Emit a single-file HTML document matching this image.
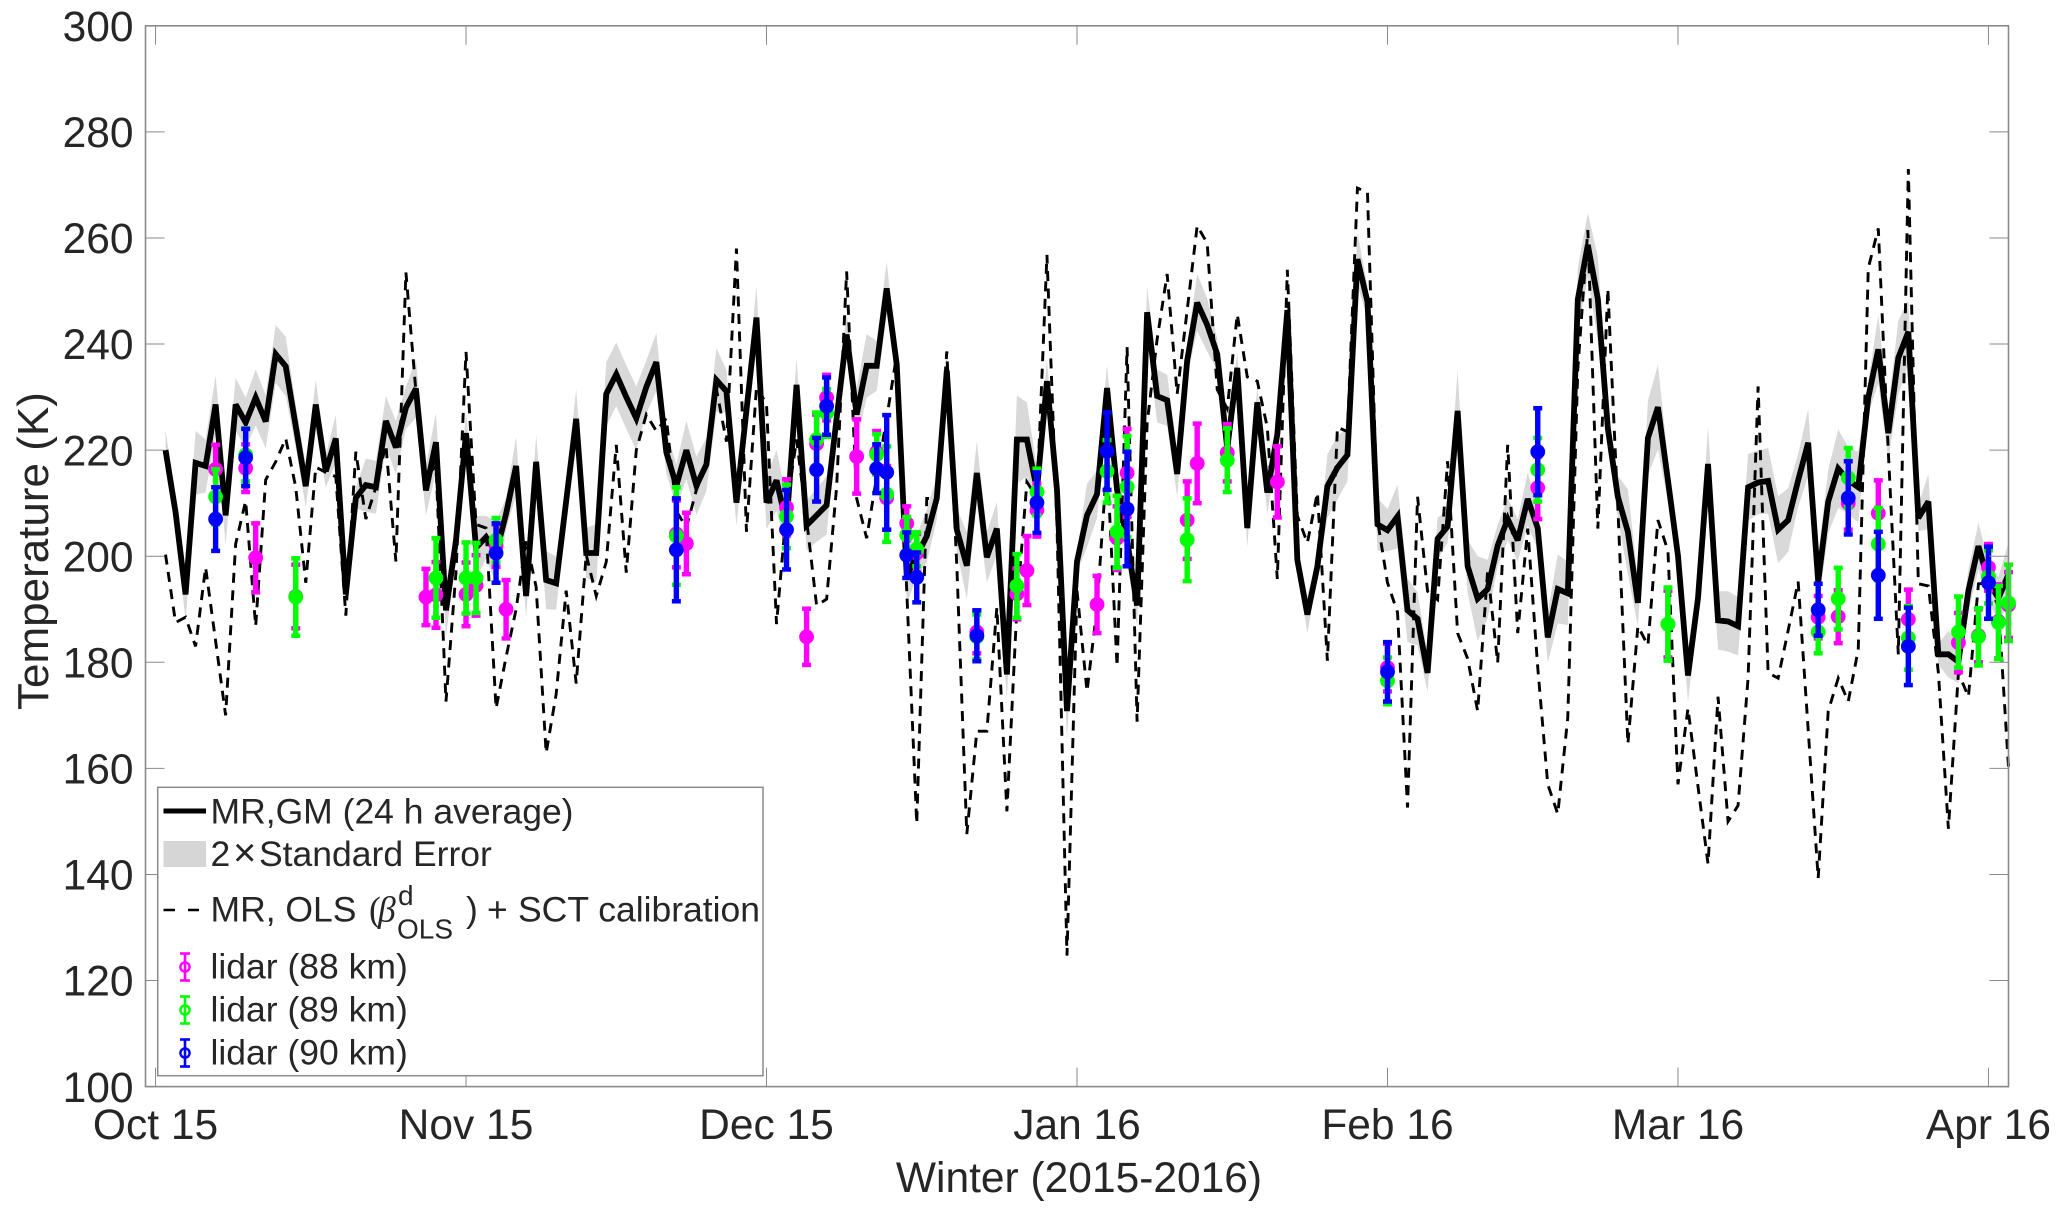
<!DOCTYPE html>
<html lang="en">
<head>
<meta charset="utf-8">
<title>Temperature, Winter 2015-2016</title>
<style>
html,body{margin:0;padding:0;background:#fff;}
svg{display:block;font-family:"Liberation Sans",Arial,sans-serif;}
text{fill:#262626;}
</style>
</head>
<body>
<svg id="chart" width="2067" height="1212" viewBox="0 0 2067 1212" xmlns="http://www.w3.org/2000/svg">
  <rect x="0" y="0" width="2067" height="1212" fill="#fff"/>
  <g id="plot"></g>
  <g id="axes"></g>
  <text transform="translate(48,710) rotate(-90)" font-size="44">Temperature (K)</text>
  <text x="1079" y="1192" font-size="42.5" text-anchor="middle">Winter (2015-2016)</text>
  <g>
    <rect x="157.7" y="787.3" width="605.3" height="288.4" fill="#fff" stroke="#8a8a8a" stroke-width="1.5"/>
    <line x1="163.5" y1="811" x2="206" y2="811" stroke="#000" stroke-width="5"/>
    <text x="210.5" y="823.7" font-size="35.5" fill="#000">MR,GM (24 h average)</text>
    <rect x="163.5" y="841" width="42.5" height="26" fill="#d6d6d6"/>
    <text font-size="35.5" y="866"><tspan x="210.5">2</tspan><tspan x="233" font-size="40">×</tspan><tspan x="259">Standard Error</tspan></text>
    <line x1="163.5" y1="910" x2="199" y2="910" stroke="#000" stroke-width="2.6" stroke-dasharray="11.5,13"/>
    <text font-size="35.5" y="921.7"><tspan x="210.5">MR, OLS</tspan><tspan x="369" font-family="'Liberation Serif',serif">(</tspan><tspan x="378" font-family="'Liberation Serif',serif" font-style="italic">β</tspan><tspan x="466">)</tspan><tspan x="487">+</tspan><tspan x="518">SCT calibration</tspan></text>
    <text x="398" y="905" font-size="28">d</text>
    <text x="397" y="938.3" font-size="28">OLS</text>
    <g id="legendLidar"></g>
  </g>
</svg>
<script>
// Day number since 1 Oct 2015 for the first value in each daily series
const firstDay = 1;

// MR,GM 24 h average (K), one value per day
const gmTemp = [220,208.3,192.8,217.6,217,228.6,207.7,228.6,225.2,229.9,225.4,238.1,235.8,224.5,213.2,228.6,216,222.2,192.8,211,213.4,213,225.5,220.5,228,231.6,212.4,221.5,189.8,203,223.2,201.6,203.6,200.6,208,217,192.5,217.8,195.5,194.9,210.4,225.9,200.6,200.6,230.6,234.3,230,226,231.9,236.6,219.6,213.3,220,213.3,217.3,233.2,231.1,210.1,227.5,245,210.1,214.3,206,232.3,205.8,207.7,209.6,226,241.8,226.7,235.9,235.9,250.5,236.2,196.3,200,203.8,210.9,235,205,198.2,215.7,199.8,205.2,177.7,222,222,212.5,233,212.5,170.8,199,207.7,211.7,231.7,212.5,203,190.7,246,230.2,229.4,215.5,236.9,247.8,243.6,238.1,220.3,235.5,205.3,229,212,223,246.4,199.3,189,198.1,213.2,216.7,219.1,256,248,206,204.9,207.5,189.8,188.2,178,203.3,205.6,227.4,198.1,192,193.8,202,207,203,210.8,205.3,184.7,193.8,193,248.4,258.7,248.5,224.1,211.2,204.6,191.2,222.3,228.1,214.3,200.1,177.5,192.1,217.4,187.9,187.7,186.8,213,213.9,214.2,205,206.8,214.3,221.4,195.2,210.3,216.5,214.3,213,229.9,239,223.2,237.4,242.3,207.2,210.3,181.5,181.5,180.1,193.5,201.9,195.2,192.1,196.6];

// Half-width of the 2 x standard error band (K), one value per day
const gmError = [3.8,3,5,6,5,5.5,5.5,5,4.7,5.3,5,5.5,5.6,4,4,4.7,3,4.5,3,2,5,5,4.7,5,4,5.5,4.7,5.5,5,3,4,6,4,6,3,5.5,4,5,5.5,5,3,5.7,4.7,5.5,6,6,6,6,5,5.5,4,4,5.5,5.5,5,6,4,4.3,3,6,5,5.7,5,5,4.7,5,5.5,3,4,5,6,4.7,5,2,5.2,4,5,4,4.4,4,6.3,5.9,4.7,5,4.7,8.3,7,4,4,3,5.4,2,6,4.5,4.3,4,4,4,4.8,5,4.8,4.3,3,5.4,5,3,3,3,3.6,3,4,3,3,2,3.5,2,6,6,5,5,3,5,4,6,6,5,3.6,4,3,7.6,5,8,5.5,4,4,4,5,4,4.8,6.5,6,6,6,8,4,4,8,4.4,7,8,4,3,5,3,7,5.5,5.7,5.5,6.3,6,6.2,6.3,6,5,6.3,5,6,7.4,6.3,6.7,3,6.4,5,7,6,2.5,5.2,2,4.4,4,4,4.4,4,4,6];

// MR, OLS + SCT calibration (K), one value per day
const olsTemp = [200.3,187.5,188.5,183,197.9,184,170,202.3,210.4,186.8,214.4,217.8,222.2,213,195,216.8,215.8,215,188.8,219.7,207,213,221,199,253.5,231,215,217,172.6,197,238.5,206,205.3,171.3,181,190,203,194.2,162.9,174,193.5,176,200.3,192.5,198.9,221,196.9,220,226.7,223.6,226,208.5,205.4,212.5,217,231.5,221.6,258,204.6,231.9,228.7,187.2,209,222,207,190.7,191.9,213,253.7,210.9,203.4,215,226,238,193.5,149.6,210.9,210.9,238.6,198.2,147.6,167,167,190.3,151.9,190.3,214,211,256.8,206,124.7,193.5,174.5,190.3,218,179.2,239.4,168.8,225,240.9,253.2,230.6,246.4,262.3,259,231.4,227.8,245.6,233.8,233,224.3,195.7,254,207.6,202.5,212,180.3,224.3,223.5,269.4,268.6,206.8,195,189.4,152.6,211.2,193.4,191.8,217.9,185.5,180.7,170.8,197.3,179.9,221,185.5,205.2,179,157,151.4,169.6,235.3,261.5,205.2,250.4,209,164.6,186.8,183.2,206.8,201,157,171.3,156.6,142,173.5,150,153,177,232,178,177,186,195.2,167.3,139.3,170.8,177,172.6,182.4,254.3,261.8,219.7,181.5,273,194.8,194.4,178,148.6,178,173.5,194.8,195,190.4,160.2];

// Lidar 88 km
const lidar88Days = [6,9,10,14,27,28,31,32,34,35,52,53,63,65,66,67,70,72,73,75,76,82,86,87,88,94,96,97,103,104,107,112,123,138,151,166,168,169,172,175,180,182,183,184,185];
const lidar88Temp = [216.4,216.6,199.7,192.4,192.3,192.7,192.8,194.5,202,190,204.2,202.4,209.2,184.8,221.2,229.9,218.8,219.6,211,206.2,200.6,185.7,192.9,197.3,208.7,190.9,203.4,215.7,206.8,217.5,219.5,214,179,212.9,187.2,188.5,188.6,210,208.1,188.1,183.7,185,197.9,187.7,190.8];
const lidar88Err = [4.6,4.5,6.5,6,5.3,6.2,6,5.7,4,5.5,6.3,5.8,5.3,5.3,5.5,4.3,7,4,6,3.2,3.6,4,4.8,6.5,5,5.4,6,8.3,7.3,7.5,5.4,6.7,4.5,5.9,6.3,4,5,5,6.2,5.6,5.6,5,4.4,7,6.2];

// Lidar 89 km
const lidar89Days = [6,9,14,28,31,32,34,52,63,66,67,72,73,75,76,82,86,88,95,96,97,103,107,123,138,151,166,168,169,172,175,180,182,183,184,185];
const lidar89Temp = [211.2,219.1,192.3,195.9,195.9,195.9,203,203.8,207.5,222,227,219.2,211.7,204,201.3,184.8,194.4,212.1,216,204.6,213.1,203.1,218.1,176.5,216.3,187.2,185.7,192,214.8,202.3,184.6,185.7,184.8,196.1,187.5,191.2];
const lidar89Err = [5.2,5,7.3,7.5,6.7,6.6,4.2,9.2,6,5.1,4.5,3.8,9,3.4,3.2,4.2,6,4.4,5.9,6.8,9.5,7.8,6,4.4,6,6.9,4,5.8,5.6,6.8,6,6.7,5.4,5,6.9,7.2];

// Lidar 90 km
const lidar90Days = [6,9,34,52,63,66,67,72,73,75,76,82,88,95,97,123,138,166,169,172,175,183];
const lidar90Temp = [207,218.6,200.6,201.2,205,216.3,228.3,216.5,215.8,200.2,196,185,210.1,219.8,208.9,178.2,219.7,189.9,211,196.4,183,195];
const lidar90Err = [6,5.4,5.6,9.7,7.5,6,5.4,4.6,10.8,4.3,4.7,4.8,5.7,7.3,10.8,5.6,8.2,4.9,6.9,8.2,7.3,6.8];

// Axis ticks
const yTicks = [100,120,140,160,180,200,220,240,260,280,300];
const xTickDays = [0,31,61,92,123,152,183];
const xTickLabels = ["Oct 15","Nov 15","Dec 15","Jan 16","Feb 16","Mar 16","Apr 16"];
const legendLabels = ["lidar (88 km)","lidar (89 km)","lidar (90 km)"];

const NS = "http://www.w3.org/2000/svg";
const plotLeft = 145.5, plotRight = 2008.5, plotTop = 25.8, plotBottom = 1086.6;
const dayMin = -1, dayMax = 185, tempMin = 100, tempMax = 300;

function xScale(day){ return plotLeft + (day - dayMin) * (plotRight - plotLeft) / (dayMax - dayMin); }
function yScale(temp){ return plotBottom - (temp - tempMin) * (plotBottom - plotTop) / (tempMax - tempMin); }
function make(tag, attrs, parent){
  const el = document.createElementNS(NS, tag);
  for (const k in attrs) el.setAttribute(k, attrs[k]);
  parent.appendChild(el);
  return el;
}
function seriesPath(values){
  return values.map((v,i) => (i ? "L" : "M") + xScale(firstDay + i).toFixed(2) + " " + yScale(v).toFixed(2)).join(" ");
}

const plot = document.getElementById("plot");
const axes = document.getElementById("axes");
const legendLidar = document.getElementById("legendLidar");

// Standard error band
const upper = gmTemp.map((v,i) => xScale(firstDay + i).toFixed(2) + "," + yScale(v + gmError[i]).toFixed(2));
const lower = gmTemp.map((v,i) => xScale(firstDay + i).toFixed(2) + "," + yScale(v - gmError[i]).toFixed(2)).reverse();
const band = make("polygon", {points: upper.concat(lower).join(" "), fill: "#d9d9d9", stroke: "none"}, plot);



// Dashed OLS line
const olsLine = make("path", {d: seriesPath(olsTemp), fill: "none", stroke: "#000", "stroke-width": 2.9, "stroke-dasharray": "10,7.5", "stroke-linejoin": "miter"}, plot);



// Solid GM line
const gmLine = make("path", {d: seriesPath(gmTemp), fill: "none", stroke: "#000", "stroke-width": 5.8, "stroke-linejoin": "miter", "stroke-miterlimit": 3}, plot);



// Lidar error bars
function drawLidar(days, temps, errs, color, groupName, pointName){
  const g = make("g", {}, plot);
  
  
  days.forEach((d,i) => {
    const x = xScale(d), y0 = yScale(temps[i] + errs[i]), y1 = yScale(temps[i] - errs[i]), y = yScale(temps[i]);
    const p = make("g", {}, g);
    
    
    make("line", {x1:x, y1:y0, x2:x, y2:y1, stroke:color, "stroke-width":5.4}, p);
    make("line", {x1:x-4.5, y1:y0, x2:x+4.5, y2:y0, stroke:color, "stroke-width":4.5}, p);
    make("line", {x1:x-4.5, y1:y1, x2:x+4.5, y2:y1, stroke:color, "stroke-width":4.5}, p);
    make("circle", {cx:x, cy:y, r:7.4, fill:color}, p);
  });
}
drawLidar(lidar88Days, lidar88Temp, lidar88Err, "#ff00ff", "lidar-88-series", "lidar-88-point");
drawLidar(lidar89Days, lidar89Temp, lidar89Err, "#00ff00", "lidar-89-series", "lidar-89-point");
drawLidar(lidar90Days, lidar90Temp, lidar90Err, "#0000ff", "lidar-90-series", "lidar-90-point");

// Axis box
const frame = make("rect", {x:plotLeft, y:plotTop, width:plotRight-plotLeft, height:plotBottom-plotTop, fill:"none", stroke:"#8a8a8a", "stroke-width":1.6}, axes);



// Y ticks and labels
yTicks.forEach(t => {
  const y = yScale(t);
  const tl = make("line", {x1:plotLeft, y1:y, x2:plotLeft+19, y2:y, stroke:"#8a8a8a", "stroke-width":1}, axes);
  
  
  const tr = make("line", {x1:plotRight-19, y1:y, x2:plotRight, y2:y, stroke:"#8a8a8a", "stroke-width":1}, axes);
  
  
  const lab = make("text", {x:133.5, y:y+15.2, "font-size":42.5, "text-anchor":"end"}, axes);
  
  
  lab.textContent = String(t);
});

// X ticks and labels
xTickDays.forEach((d,i) => {
  const x = xScale(d);
  const tb = make("line", {x1:x, y1:plotBottom-19, x2:x, y2:plotBottom, stroke:"#8a8a8a", "stroke-width":1}, axes);
  
  
  const tt = make("line", {x1:x, y1:plotTop, x2:x, y2:plotTop+19, stroke:"#8a8a8a", "stroke-width":1}, axes);
  
  
  const lab = make("text", {x:x, y:1139, "font-size":42.5, "text-anchor":"middle"}, axes);
  
  
  lab.textContent = xTickLabels[i];
});

// Legend lidar entries
const legendColors = ["#ff00ff","#00ff00","#0000ff"];
legendLabels.forEach((label,i) => {
  const cy = 967 + i * 43, cx = 185;
  const g = make("g", {}, legendLidar);
  
  
  const c = legendColors[i];
  make("line", {x1:cx, y1:cy-13.5, x2:cx, y2:cy+13.5, stroke:c, "stroke-width":2.6}, g);
  make("line", {x1:cx-5, y1:cy-13.5, x2:cx+5, y2:cy-13.5, stroke:c, "stroke-width":2.6}, g);
  make("line", {x1:cx-5, y1:cy+13.5, x2:cx+5, y2:cy+13.5, stroke:c, "stroke-width":2.6}, g);
  make("circle", {cx:cx, cy:cy, r:4.6, fill:"none", stroke:c, "stroke-width":2.4}, g);
  const t = make("text", {x:210.5, y:cy+11.3, "font-size":35.5, fill:"#000"}, g);
  t.textContent = label;
});
</script>
</body>
</html>
